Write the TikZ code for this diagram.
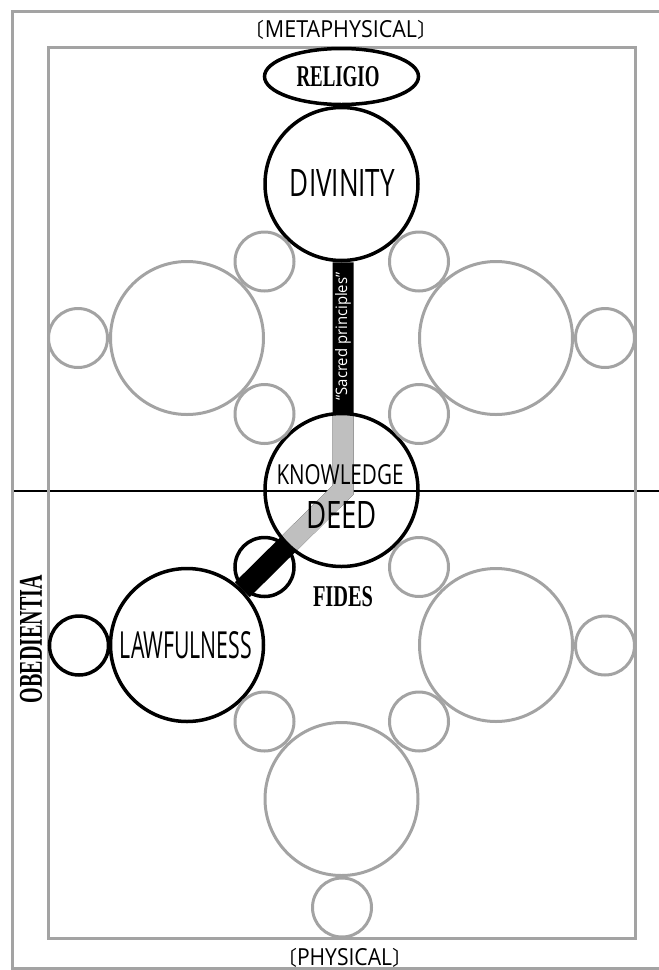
\documentclass[tikz,border=0pt]{standalone}
\usepackage{fontspec}
\usepackage{graphicx}
\usetikzlibrary{shapes.geometric,backgrounds}
\newfontfamily\labfont{Open Sans}
\newfontfamily\serfont{Liberation Serif}
\newfontfamily\cjkfont{Noto Sans CJK JP}
\definecolor{ringgray}{gray}{0.64}
\definecolor{bargray}{gray}{0.75}
\newcommand\fitlab[3]{\resizebox{#1pt}{#2pt}{#3}}
\newcommand\brk[1]{{\cjkfont\fontsize{20}{20}\selectfont\raisebox{-0.5pt}{#1}}}
\begin{document}
\begin{tikzpicture}[x=1pt,y=-1pt,
 bigblack/.style={circle,draw=black,line width=3.5pt,minimum size=153pt,inner sep=0pt},
 biggray/.style={circle,draw=ringgray,line width=3pt,minimum size=153pt,inner sep=0pt},
 smallblack/.style={circle,draw=black,line width=3.5pt,minimum size=59pt,inner sep=0pt},
 smallgray/.style={circle,draw=ringgray,line width=3pt,minimum size=59pt,inner sep=0pt},
 frameline/.style={draw=ringgray,line width=3pt},
 sanslab/.style={inner sep=0pt,font=\labfont},
 serlab/.style={inner sep=0pt,font=\serfont\bfseries},
 barline/.style={line width=21pt,line join=miter},
]
\useasboundingbox (0,0) rectangle (659,970);
% frames
\draw[frameline] (12,11) rectangle (672,968);
\draw[frameline] (48,47) rectangle (635,938);
% black nodes
\node[ellipse,draw=black,line width=3.5pt,minimum width=154pt,minimum height=56pt,inner sep=0pt] (relig) at (341.5,76.5) {};
\node[bigblack] (div) at (341.5,184) {};
\node[bigblack] (know) at (341.5,490) {};
\node[bigblack] (law) at (187,645) {};
\node[smallblack] (fid) at (264.5,567) {};
\node[smallblack] (obd) at (79,645.5) {};
% gray big
\node[biggray] (gl1) at (187,338) {};
\node[biggray] (gr1) at (496,338) {};
\node[biggray] (gr2) at (496,645) {};
\node[biggray] (gb) at (341.5,799) {};
% gray small
\node[smallgray] (s1) at (264.5,261.5) {};
\node[smallgray] (s2) at (419,261.5) {};
\node[smallgray] (s3) at (264.5,414) {};
\node[smallgray] (s4) at (419,414) {};
\node[smallgray] (s5) at (419,567) {};
\node[smallgray] (s6) at (264.5,721.5) {};
\node[smallgray] (s7) at (419,721.5) {};
\node[smallgray] (s8) at (78,338) {};
\node[smallgray] (s9) at (605,338) {};
\node[smallgray] (s10) at (605,645.5) {};
\node[smallgray] (s11) at (342,907.5) {};
% horizontal divider and bar
\coordinate (hl) at (12,491);
\coordinate (hr) at (659,491);
\coordinate (bartop) at ([xshift=1.5pt]div.south);
\coordinate (barbend) at ([xshift=1.5pt]know.center);
\begin{scope}[on background layer]
\draw[black,line width=1.4pt] (hl) -- (hr);
\draw[barline,draw=black] (bartop) -- (barbend) -- (law.north east);
\begin{scope}
\clip (know.center) circle[radius=76.5];
\draw[barline,draw=bargray] (bartop) -- (barbend) -- (law.north east);
\end{scope}
\end{scope}
% labels
\node[sanslab] (divtxt) at (342.5,183) {\fitlab{105}{27}{DIVINITY}};
\node[sanslab] (knowtxt) at (340,475) {\fitlab{127}{20}{KNOWLEDGE}};
\node[sanslab] (deedtxt) at (341.5,515) {\fitlab{71}{27}{DEED}};
\node[sanslab] (lawtxt) at (186,645) {\fitlab{132}{27}{LAWFULNESS}};
\node[serlab] (religtxt) at (338,77) {\fitlab{83}{20}{RELIGIO}};
\node[serlab] (fidestxt) at (343,597) {\fitlab{60}{20}{FIDES}};
\node[serlab,rotate=90] (obedtxt) at (31,639) {\fitlab{128}{22}{OBEDIENTIA}};
\node[sanslab,text=white,rotate=90] (sacred) at (343,336.5) {\fitlab{128}{12}{“Sacred principles”}};
\node[sanslab,anchor=base] (meta) at (341,37) {\brk{〔}\fitlab{152}{17}{METAPHYSICAL}\brk{〕}};
\node[sanslab,anchor=base] (phys) at (344.5,965) {\brk{〔}\fitlab{95}{17}{PHYSICAL}\brk{〕}};
\end{tikzpicture}
\end{document}
